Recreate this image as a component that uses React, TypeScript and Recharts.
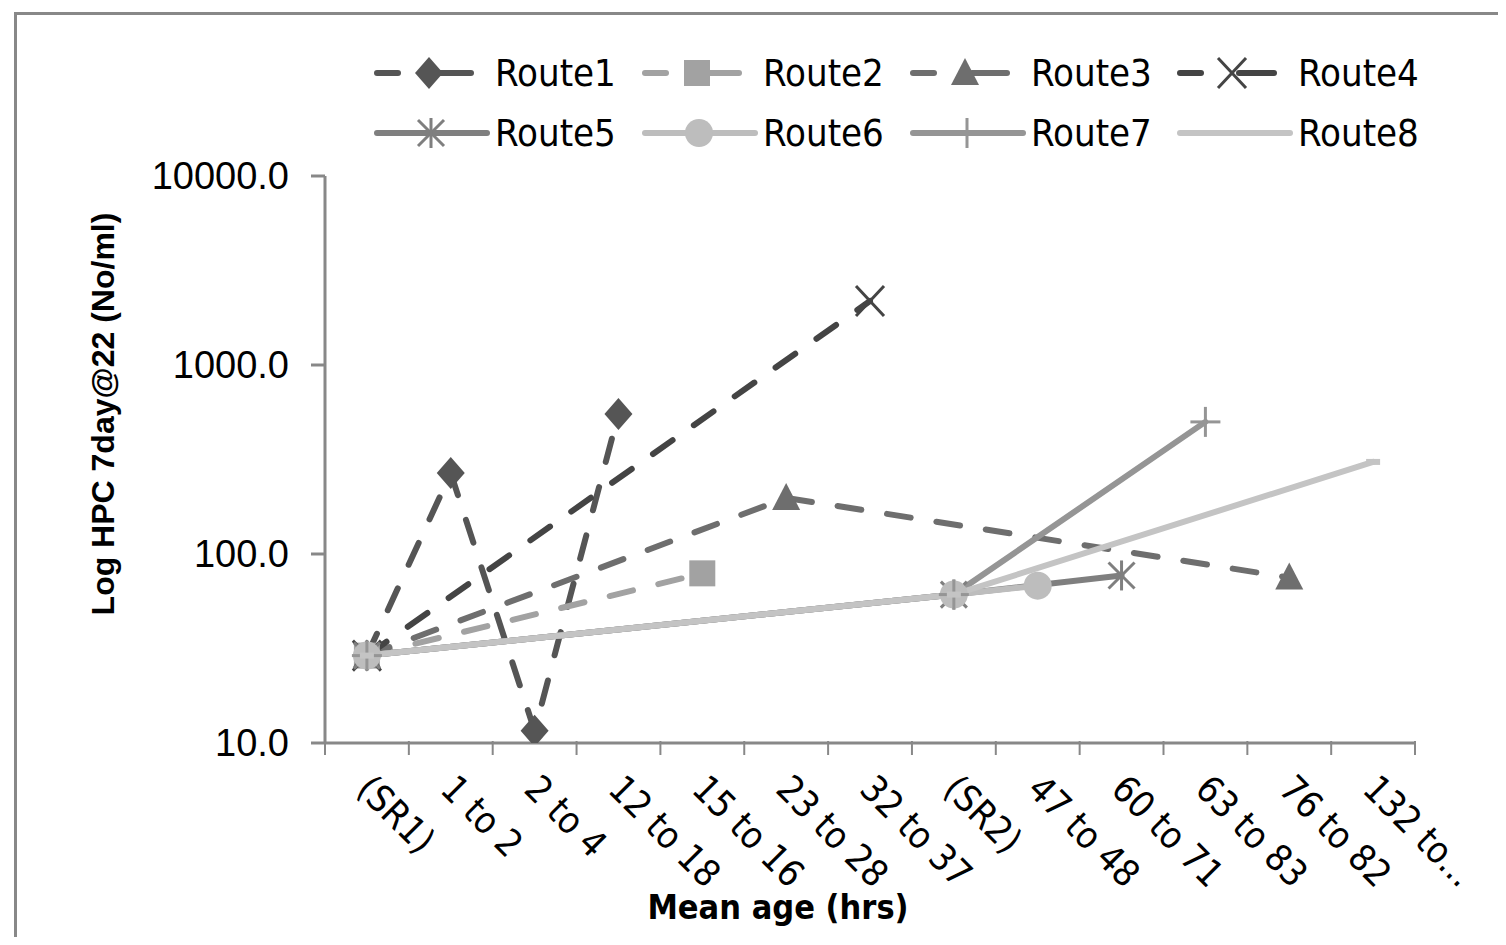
import { Line, LineChart, XAxis, YAxis } from 'recharts';

const categories = [
  '(SR1)', '1 to 2', '2 to 4', '12 to 18', '15 to 16', '23 to 28', '32 to 37',
  '(SR2)', '47 to 48', '60 to 71', '63 to 83', '76 to 82', '132 to...',
];

const route1 = [29, 268, 11.6, 551, null, null, null, null, null, null, null, null, null];
const route2 = [29, null, null, null, 79, null, null, null, null, null, null, null, null];
const route3 = [29, null, null, null, null, 198, null, null, null, null, null, 75, null];
const route4 = [29, null, null, null, null, null, 2180, null, null, null, null, null, null];
const route5 = [29, null, null, null, null, null, null, 61, null, 77, null, null, null];
const route6 = [29, null, null, null, null, null, null, 61, 68, null, null, null, null];
const route7 = [29, null, null, null, null, null, null, 61, null, null, 500, null, null];
const route8 = [29, null, null, null, null, null, null, 61, null, null, null, null, 307];

const yTicks = [10, 100, 1000, 10000];

type Shape = 'diamond' | 'square' | 'triangle' | 'x' | 'star' | 'circle' | 'plus' | 'dash';

const SERIES: { key: string; name: string; values: (number | null)[]; color: string; dashed: boolean; shape: Shape }[] = [
  { key: 'r1', name: 'Route1', values: route1, color: '#555555', dashed: true, shape: 'diamond' },
  { key: 'r2', name: 'Route2', values: route2, color: '#a2a2a2', dashed: true, shape: 'square' },
  { key: 'r3', name: 'Route3', values: route3, color: '#6e6e6e', dashed: true, shape: 'triangle' },
  { key: 'r4', name: 'Route4', values: route4, color: '#444444', dashed: true, shape: 'x' },
  { key: 'r5', name: 'Route5', values: route5, color: '#7f7f7f', dashed: false, shape: 'star' },
  { key: 'r6', name: 'Route6', values: route6, color: '#bdbdbd', dashed: false, shape: 'circle' },
  { key: 'r7', name: 'Route7', values: route7, color: '#959595', dashed: false, shape: 'plus' },
  { key: 'r8', name: 'Route8', values: route8, color: '#c4c4c4', dashed: false, shape: 'dash' },
];

const data = categories.map((cat, i) => {
  const row: Record<string, string | number | null> = { cat };
  SERIES.forEach((s) => {
    row[s.key] = s.values[i];
  });
  return row;
});

const NARROW = '"Liberation Sans Narrow", "DejaVu Sans Condensed", "Liberation Sans", sans-serif';
const ARIAL = '"Liberation Sans", Arial, sans-serif';
const AXIS = '#888888';
// half of the category step, so tick marks fall between categories like Excel
const HALF = 41.9;

function Marker({ shape, color, cx, cy }: { shape: Shape; color: string; cx: number; cy: number }) {
  const r = 14;
  switch (shape) {
    case 'diamond':
      return <polygon points={`${cx},${cy - r - 2} ${cx + r},${cy} ${cx},${cy + r + 2} ${cx - r},${cy}`} fill={color} />;
    case 'square':
      return <rect x={cx - 13} y={cy - 13} width={26} height={26} fill={color} />;
    case 'triangle':
      return <polygon points={`${cx},${cy - 15} ${cx + 14},${cy + 12} ${cx - 14},${cy + 12}`} fill={color} />;
    case 'x':
      return (
        <g stroke={color} strokeWidth={3}>
          <line x1={cx - 14} y1={cy - 15} x2={cx + 14} y2={cy + 15} />
          <line x1={cx + 14} y1={cy - 15} x2={cx - 14} y2={cy + 15} />
        </g>
      );
    case 'star':
      return (
        <g stroke={color} strokeWidth={3}>
          <line x1={cx - 13} y1={cy - 13} x2={cx + 13} y2={cy + 13} />
          <line x1={cx + 13} y1={cy - 13} x2={cx - 13} y2={cy + 13} />
          <line x1={cx} y1={cy - 15} x2={cx} y2={cy + 15} />
        </g>
      );
    case 'circle':
      return <circle cx={cx} cy={cy} r={14} fill={color} />;
    case 'plus':
      return (
        <g stroke={color} strokeWidth={3}>
          <line x1={cx - 15} y1={cy} x2={cx + 15} y2={cy} />
          <line x1={cx} y1={cy - 15} x2={cx} y2={cy + 15} />
        </g>
      );
    case 'dash':
      return <line x1={cx - 7} y1={cy} x2={cx + 7} y2={cy} stroke={color} strokeWidth={6} />;
  }
}

function makeDot(shape: Shape, color: string) {
  return (props: any) => {
    const { cx, cy, index, value } = props;
    if (cx == null || cy == null || value == null || Number.isNaN(cy)) return <g key={`d-${index}`} />;
    return (
      <g key={`d-${index}`}>
        <Marker shape={shape} color={color} cx={cx} cy={cy} />
      </g>
    );
  };
}

function XTick(props: any) {
  const { x, y, payload, index } = props;
  const tx = x - 12;
  const ty = y + 40;
  return (
    <g>
      <line x1={x - HALF} y1={y - 10} x2={x - HALF} y2={y + 4} stroke={AXIS} strokeWidth={2} />
      {index === categories.length - 1 && (
        <line x1={x + HALF} y1={y - 10} x2={x + HALF} y2={y + 4} stroke={AXIS} strokeWidth={2} />
      )}
      <text
        x={tx}
        y={ty}
        transform={`rotate(45, ${tx}, ${ty})`}
        textAnchor="start"
        fontFamily={NARROW}
        fontSize={37}
        fill="#000"
      >
        {payload.value}
      </text>
    </g>
  );
}

function YTitle() {
  return (
    <text
      x={114}
      y={414}
      transform="rotate(-90, 114, 414)"
      textAnchor="middle"
      fontFamily={ARIAL}
      fontWeight="bold"
      fontSize={32}
      fill="#000"
    >
      Log HPC 7day@22 (No/ml)
    </text>
  );
}

function ChartLegend() {
  const cols = [374, 642, 910, 1177];
  return (
    <div style={{ position: 'absolute', left: 0, top: 48, width: 1506, height: 130 }}>
      {SERIES.map((s, i) => {
        const left = cols[i % 4];
        const top = i < 4 ? 0 : 60;
        const len = i < 4 ? 100 : 113;
        return (
          <div key={s.key} style={{ position: 'absolute', left, top, height: 50, display: 'flex', alignItems: 'center' }}>
            <svg width={118} height={50} style={{ display: 'block' }}>
              {s.dashed ? (
                <g stroke={s.color} strokeWidth={6} strokeLinecap="round">
                  <line x1={3} y1={25} x2={24} y2={25} />
                  <line x1={62} y1={25} x2={len - 3} y2={25} />
                </g>
              ) : (
                <line x1={3} y1={25} x2={len} y2={25} stroke={s.color} strokeWidth={6} strokeLinecap="round" />
              )}
              {s.shape !== 'dash' && <Marker shape={s.shape} color={s.color} cx={i < 4 ? 55 : 57} cy={25} />}
            </svg>
            <span style={{ fontFamily: NARROW, fontSize: 38, color: '#000', marginLeft: 3, lineHeight: '50px' }}>
              {s.name}
            </span>
          </div>
        );
      })}
    </div>
  );
}

export default function App() {
  return (
    <div style={{ position: 'relative', width: 1506, height: 945, margin: -8, background: '#fff', overflow: 'hidden' }}>
      <div
        style={{
          position: 'absolute',
          left: 14,
          top: 12,
          width: 1520,
          height: 928,
          border: '3px solid #888888',
          boxSizing: 'border-box',
        }}
      />
      <ChartLegend />
      <LineChart
        width={1506}
        height={945}
        data={data}
        margin={{ top: 176, right: 91, left: 95, bottom: 2 }}
        style={{ position: 'absolute', left: 0, top: 0 }}
      >
        <XAxis
          dataKey="cat"
          interval={0}
          height={200}
          padding={{ left: HALF, right: HALF }}
          tick={<XTick />}
          tickLine={false}
          axisLine={{ stroke: AXIS, strokeWidth: 3 }}
          label={{
            value: 'Mean age (hrs)',
            position: 'insideBottom',
            offset: 24,
            dx: -92,
            fontFamily: NARROW,
            fontWeight: 'bold',
            fontSize: 34,
            fill: '#000',
          }}
        />
        <YAxis
          scale="log"
          domain={[10, 10000]}
          ticks={yTicks}
          allowDataOverflow
          width={230}
          tickFormatter={(v: number) => v.toFixed(1)}
          tick={{ fontFamily: ARIAL, fontSize: 38, fill: '#000' }}
          tickLine={{ stroke: AXIS, strokeWidth: 3 }}
          tickSize={14}
          tickMargin={22}
          axisLine={{ stroke: AXIS, strokeWidth: 3 }}
          label={{ content: () => <YTitle /> }}
        />
        {SERIES.map((s) => (
          <Line
            key={s.key}
            type="linear"
            dataKey={s.key}
            name={s.name}
            stroke={s.color}
            strokeWidth={6}
            strokeLinecap="round"
            strokeDasharray={s.dashed ? '24 26' : undefined}
            connectNulls
            dot={makeDot(s.shape, s.color)}
            activeDot={false}
            isAnimationActive={false}
          />
        ))}
      </LineChart>
    </div>
  );
}
